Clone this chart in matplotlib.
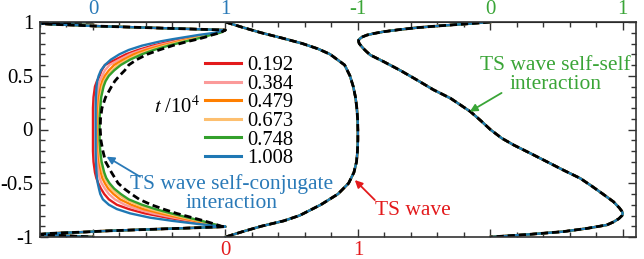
import matplotlib
matplotlib.use('Agg')
import matplotlib.pyplot as plt
from matplotlib.ticker import MultipleLocator
from matplotlib.lines import Line2D

plt.rcParams['font.family'] = ['Liberation Serif', 'DejaVu Serif']
plt.rcParams['mathtext.fontset'] = 'stix'

# ---------------- data ----------------
times = ['0.192', '0.384', '0.479', '0.673', '0.748', '1.008']
colors = ['#e31a1c', '#fb9a99', '#ff7f00', '#fdbf6f', '#33a02c', '#1f78b4']

# Panel 1: TS wave self-conjugate interaction (shared near-wall parts)
y_wall_top = [1.0, 0.995, 0.99, 0.985, 0.978, 0.97, 0.963, 0.955, 0.945, 0.935, 0.925]
v_wall_top = [0, -0.22, -0.36, -0.39, -0.3, -0.12, 0.0, 0.21, 0.47, 0.74, 1.0]
y_core = [0.90, 0.88, 0.86, 0.84, 0.82, 0.78, 0.74, 0.70, 0.65, 0.60, 0.55, 0.50,
          0.45, 0.40, 0.30, 0.20, 0.10, 0.0, -0.10, -0.20, -0.30, -0.40, -0.45,
          -0.50, -0.55, -0.60, -0.65, -0.70, -0.74, -0.78, -0.82, -0.85, -0.88, -0.90]
y_wall_bot = [-0.904, -0.915, -0.925, -0.935, -0.945, -0.953, -0.96, -0.967, -0.974,
              -0.982, -0.99, -1.0]
v_wall_bot = [1.0, 0.76, 0.52, 0.29, 0.07, -0.05, -0.2, -0.33, -0.39, -0.33, -0.18, 0.0]

sc_red = [0.94, 0.86, 0.76, 0.67, 0.59, 0.45, 0.34, 0.25, 0.17, 0.09, 0.065, 0.05,
          0.03, 0.015, 0.004, 0.0, 0.0, 0.0, 0.0, 0.0, 0.004, 0.015, 0.025, 0.04,
          0.06, 0.085, 0.12, 0.18, 0.27, 0.39, 0.56, 0.71, 0.86, 0.96]
sc_pink = [0.945, 0.87, 0.78, 0.70, 0.62, 0.48, 0.37, 0.28, 0.20, 0.125, 0.09, 0.07,
           0.05, 0.04, 0.032, 0.03, 0.03, 0.03, 0.03, 0.032, 0.036, 0.042, 0.05, 0.065,
           0.09, 0.12, 0.165, 0.24, 0.33, 0.45, 0.61, 0.745, 0.875, 0.963]
sc_orange = [0.95, 0.875, 0.795, 0.72, 0.65, 0.515, 0.40, 0.31, 0.23, 0.16, 0.12, 0.09,
             0.07, 0.058, 0.045, 0.04, 0.04, 0.04, 0.04, 0.042, 0.048, 0.06, 0.07, 0.09,
             0.115, 0.155, 0.205, 0.29, 0.38, 0.51, 0.65, 0.77, 0.89, 0.966]
sc_lorange = [0.955, 0.88, 0.81, 0.745, 0.675, 0.545, 0.435, 0.345, 0.26, 0.19, 0.145, 0.11,
              0.085, 0.07, 0.055, 0.047, 0.045, 0.045, 0.045, 0.048, 0.056, 0.074, 0.088,
              0.11, 0.14, 0.185, 0.245, 0.335, 0.43, 0.555, 0.69, 0.80, 0.90, 0.968]
sc_green = [0.96, 0.89, 0.83, 0.77, 0.70, 0.57, 0.46, 0.37, 0.28, 0.21, 0.16, 0.12,
            0.095, 0.08, 0.062, 0.055, 0.05, 0.05, 0.05, 0.055, 0.065, 0.085, 0.1, 0.125,
            0.16, 0.21, 0.27, 0.37, 0.47, 0.59, 0.72, 0.82, 0.91, 0.97]
sc_blue = [0.92, 0.80, 0.70, 0.60, 0.51, 0.37, 0.27, 0.20, 0.135, 0.09, 0.06, 0.043,
           0.032, 0.027, 0.022, 0.02, 0.02, 0.02, 0.02, 0.02, 0.022, 0.027, 0.03, 0.036,
           0.045, 0.055, 0.075, 0.12, 0.18, 0.28, 0.43, 0.60, 0.80, 0.95]
sc_theory = [0.96, 0.90, 0.85, 0.79, 0.72, 0.60, 0.50, 0.41, 0.33, 0.27, 0.24, 0.2,
             0.165, 0.14, 0.095, 0.068, 0.057, 0.055, 0.06, 0.075, 0.095, 0.14, 0.165,
             0.19, 0.235, 0.29, 0.35, 0.44, 0.53, 0.63, 0.75, 0.84, 0.92, 0.97]

# Panel 2: TS wave
y_ts = [1.0, 0.95, 0.9, 0.85, 0.8, 0.75, 0.7, 0.6, 0.5, 0.4, 0.3, 0.2, 0.1, 0.0,
        -0.1, -0.2, -0.3, -0.4, -0.5, -0.6, -0.7, -0.75, -0.8, -0.85, -0.9, -0.95, -1.0]
v_ts = [0, 0.13, 0.27, 0.43, 0.58, 0.70, 0.79, 0.9, 0.94, 0.965, 0.982, 0.992, 0.998, 1.0,
        1.0, 0.997, 0.99, 0.97, 0.93, 0.85, 0.72, 0.64, 0.56, 0.44, 0.27, 0.13, 0]

# Panel 3: TS wave self-self interaction
y_ss = [1.0, 0.985, 0.972, 0.96, 0.947, 0.93, 0.91, 0.893, 0.879, 0.862, 0.845, 0.83,
        0.817, 0.8, 0.785, 0.755, 0.725, 0.693, 0.631, 0.55, 0.46, 0.37, 0.29, 0.166,
        0.08, 0.0, -0.08, -0.144, -0.22, -0.3, -0.38, -0.454, -0.53, -0.6, -0.672,
        -0.73, -0.76, -0.78, -0.80, -0.83, -0.86, -0.888, -0.92, -0.95, -0.975, -1.0]
v_ss = [0, -0.15, -0.30, -0.43, -0.555, -0.68, -0.805, -0.88, -0.93, -0.965, -0.985,
        -0.995, -0.994, -0.99, -0.98, -0.96, -0.935, -0.906, -0.805, -0.68, -0.553, -0.43,
        -0.30, -0.15, -0.07, 0.0, 0.085, 0.176, 0.30, 0.428, 0.555, 0.679, 0.77, 0.85,
        0.93, 0.975, 0.993, 1.0, 0.995, 0.97, 0.93, 0.88, 0.73, 0.55, 0.3, 0]

top_tick_pos = [0, 1, 2, 3, 4]
top_tick_lab = ['0', '1', '-1', '0', '1']
bot_tick_lab = ['', '0', '1', '', '']
y_tick_pos = [1, 0.5, 0, -0.5, -1]
y_tick_lab = ['1', '0.5', '0', '-0.5', '-1']

# ---------------- figure ----------------
W, H = 644, 259
fig = plt.figure(figsize=(W / 100, H / 100), dpi=100)
ax = fig.add_axes([40 / W, 22 / H, 596 / W, 215 / H])

blue_txt = '#2a7ab8'
green_txt = '#3aa537'
red_txt = '#e31a1c'

off_ts = 1.0
off_ss = 3.0
lw = 1.7
fs_tick = 15
fs_leg = 14.8
fs_ann = 15.5

sc_curves = [sc_red, sc_pink, sc_orange, sc_lorange, sc_green, sc_blue]
for vals, c in zip(sc_curves, colors):
    ys = y_wall_top + y_core + y_wall_bot
    vs = v_wall_top + vals + v_wall_bot
    ax.plot(vs, ys, color=c, lw=lw, solid_joinstyle='round')
    ax.plot([v + off_ts for v in v_ts], y_ts, color=c, lw=lw)
    ax.plot([v + off_ss for v in v_ss], y_ss, color=c, lw=lw)

dash = dict(color='black', lw=2.0, dashes=(2.6, 1.4))
ax.plot(v_wall_top + sc_theory + v_wall_bot, y_wall_top + y_core + y_wall_bot, **dash)
ax.plot([v + off_ts for v in v_ts], y_ts, **dash)
ax.plot([v + off_ss for v in v_ss], y_ss, **dash)

ax.set_xlim(-0.4, 4.1)
ax.set_ylim(-1, 1)

# ticks
ax.set_xticks(top_tick_pos, labels=bot_tick_lab)
ax.xaxis.set_minor_locator(MultipleLocator(0.2))
ax.set_yticks(y_tick_pos, labels=y_tick_lab)
ax.yaxis.set_minor_locator(MultipleLocator(0.1))
ax.tick_params(which='both', direction='in', top=True, right=True, width=1.0,
               color='#333333')
ax.tick_params(which='major', length=6)
ax.tick_params(which='minor', length=3.5)
ax.tick_params(axis='x', labelsize=fs_tick, pad=3, labelcolor=red_txt)
ax.tick_params(axis='y', labelsize=fs_tick, pad=5)

secax = ax.secondary_xaxis('top')
secax.set_xticks(top_tick_pos, labels=top_tick_lab)
secax.tick_params(length=0, pad=2, labelsize=fs_tick)
for lbl, c in zip(secax.get_xticklabels(), [blue_txt, blue_txt, green_txt, green_txt, green_txt]):
    lbl.set_color(c)

for s in ax.spines.values():
    s.set_linewidth(1.2)
    s.set_color('#333333')

# legend
handles = [Line2D([], [], color=c, lw=2.2) for c in colors]
ax.legend(handles, times, loc='upper left', bbox_to_anchor=(0.277, 0.842),
          frameon=False, fontsize=fs_leg, handlelength=1.75, handletextpad=0.3,
          labelspacing=-0.04, borderpad=0, borderaxespad=0)
ax.text(0.634, 0.209, r'$t$ /10$^{4}$', fontsize=fs_leg, ha='center', va='center')

# annotations
arrow_kw = dict(arrowstyle='-|>', lw=1.3, mutation_scale=11, shrinkA=0, shrinkB=0)
ax.annotate('', xy=(0.103, -0.253), xytext=(0.355, -0.439),
            arrowprops=dict(color=blue_txt, **arrow_kw))
ax.text(1.045, -0.60, 'TS wave self-conjugate\ninteraction', color=blue_txt,
        fontsize=fs_ann, ha='center', va='center', linespacing=1.0)

ax.annotate('', xy=(1.977, -0.47), xytext=(2.128, -0.656),
            arrowprops=dict(color=red_txt, **arrow_kw))
ax.text(2.415, -0.749, 'TS wave', color=red_txt, fontsize=fs_ann, ha='center', va='center')

ax.annotate('', xy=(2.845, 0.166), xytext=(3.085, 0.34),
            arrowprops=dict(color=green_txt, **arrow_kw))
ax.text(3.49, 0.507, 'TS wave self-self\ninteraction', color=green_txt,
        fontsize=fs_ann, ha='center', va='center', linespacing=1.0)

fig.savefig('out.png', dpi=100)
